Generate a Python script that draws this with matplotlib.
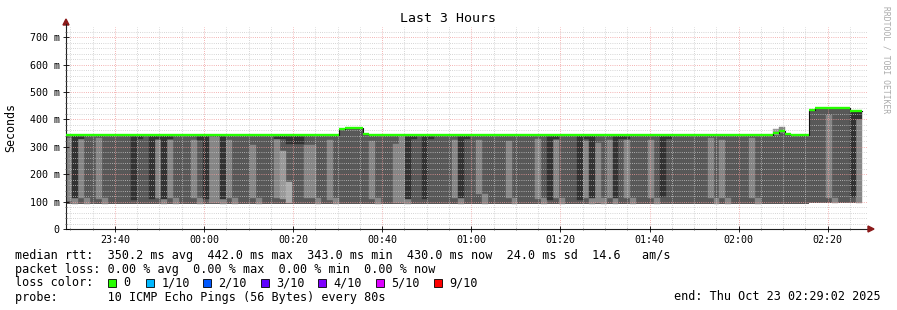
import numpy as np
import matplotlib
matplotlib.use("Agg")
import matplotlib.pyplot as plt
import matplotlib.dates as mdates
from matplotlib.patches import Rectangle, Polygon

plt.rcParams['font.family'] = ['DejaVu Sans Mono', 'DejaVu Sans']

# ---------------- data ----------------
title = "Last 3 Hours"
start_time = "2025-10-22T23:29:02"
step_seconds = 80

# median rtt per 80 s step (ms)
median_ms = [
    343, 343, 343, 343, 343, 343, 343, 343, 343, 343, 343, 343, 343, 343, 343, 343, 343, 343, 343, 343,
    343, 343, 343, 343, 343, 343, 343, 343, 343, 343, 343, 343, 343, 343, 343, 343, 343, 343, 343, 343,
    343, 343, 343, 343, 343, 343, 364, 369, 369, 369, 346, 343, 343, 343, 343, 343, 343, 343, 343, 343,
    343, 343, 343, 343, 343, 343, 343, 343, 343, 343, 343, 343, 343, 343, 343, 343, 343, 343, 343, 343,
    343, 343, 343, 343, 343, 343, 343, 343, 343, 343, 343, 343, 343, 343, 343, 343, 343, 343, 343, 343,
    343, 343, 343, 343, 343, 343, 343, 343, 343, 343, 343, 343, 343, 343, 343, 343, 343, 343, 343, 350,
    357, 348, 343, 343, 343, 433, 442, 442, 440, 440, 440, 440, 430, 430,
]
# lowest smoke value per step (ms)
smoke_low_ms = [
    92, 92, 92, 92, 92, 92, 92, 92, 92, 92, 92, 92, 92, 92, 92, 92, 92, 92, 92, 92,
    92, 92, 92, 92, 92, 92, 92, 92, 92, 92, 92, 92, 92, 92, 92, 92, 92, 92, 92, 92,
    92, 92, 92, 92, 92, 92, 92, 92, 92, 92, 92, 92, 92, 92, 92, 92, 92, 92, 92, 92,
    92, 92, 92, 92, 92, 92, 92, 92, 92, 92, 92, 92, 92, 92, 92, 92, 92, 92, 92, 92,
    92, 92, 92, 92, 92, 92, 92, 92, 92, 92, 92, 92, 92, 92, 92, 92, 92, 92, 92, 92,
    92, 92, 92, 92, 92, 92, 92, 92, 92, 92, 92, 92, 92, 92, 92, 92, 92, 92, 92, 92,
    92, 92, 92, 92, 92, 94, 94, 94, 94, 94, 94, 94, 94, 94,
]

# outer smoke layers (pings spread): step index, low ms, high ms, layer (1 outer .. 3 inner)
outer_step = [0, 2, 5, 15, 17, 21, 24, 25, 27, 31, 35, 36, 37, 40, 41, 44, 51, 55, 56, 65,
              69, 74, 79, 82, 87, 89, 91, 94, 98, 108, 110, 115, 128, 133, 119, 120]
outer_low = [102, 113, 110, 113, 113, 113, 95, 95, 113, 113, 113, 110, 95, 113, 113, 106, 110, 95, 95, 113,
             128, 113, 110, 113, 113, 95, 113, 113, 113, 113, 113, 113, 113, 95, 343, 350]
outer_high = [333, 328, 332, 325, 325, 325, 335, 335, 325, 307, 328, 285, 172, 307, 307, 325, 321, 310, 339, 325,
              325, 321, 328, 325, 321, 314, 325, 325, 325, 332, 325, 332, 416, 401, 365, 372]
outer_layer = [3, 3, 3, 3, 3, 3, 3, 3, 3, 3, 3, 2, 1, 3, 3, 3, 3, 3, 3, 3,
               3, 3, 3, 3, 3, 3, 3, 3, 3, 3, 3, 3, 3, 3, 2, 3]

# low tails following spread steps
tail_step = [1, 3, 6, 16, 18, 22, 26, 28, 32, 42, 45, 52, 57, 66, 70, 75, 80, 83, 88, 90,
             92, 95, 99, 109, 111, 116, 129]
tail_high = [114, 113, 113, 113, 113, 113, 113, 113, 113, 113, 113, 113, 113, 113, 128, 113, 113, 113, 113, 113,
             113, 113, 113, 113, 113, 113, 113]

# central pings (darkest layer): step index, low ms, high ms
core_step = [1, 11, 14, 16, 23, 26, 57, 60, 66, 81, 86, 88, 92, 100, 132,
             2, 12, 15, 17, 22, 35, 36, 37, 38, 39, 58, 61, 67, 82, 87, 93, 94, 101, 133]
core_low = [114, 106, 110, 110, 110, 110, 110, 110, 113, 106, 106, 113, 113, 117, 117,
            330, 330, 330, 330, 325, 330, 330, 310, 310, 310, 330, 330, 330, 330, 330, 330, 330, 330, 401]
core_high = [343, 343, 343, 343, 343, 343, 343, 343, 343, 343, 343, 343, 343, 343, 427,
             343, 343, 343, 343, 343, 343, 343, 343, 343, 343, 343, 343, 343, 343, 343, 343, 343, 343, 427]

y_ticks_ms = [0, 100, 200, 300, 400, 500, 600, 700]
y_tick_labels = ["0", "100 m", "200 m", "300 m", "400 m", "500 m", "600 m", "700 m"]

line_median = "median rtt:  350.2 ms avg  442.0 ms max  343.0 ms min  430.0 ms now  24.0 ms sd  14.6   am/s"
line_loss = "packet loss: 0.00 % avg  0.00 % max  0.00 % min  0.00 % now"
loss_labels = ["0", "1/10", "2/10", "3/10", "4/10", "5/10", "9/10"]
loss_colors = ["#26ff00", "#00b8ff", "#0059ff", "#5e00ff", "#7e00ff", "#dd00ff", "#ff0000"]
line_probe = "probe:       10 ICMP Echo Pings (56 Bytes) every 80s"
end_text = "end: Thu Oct 23 02:29:02 2025"

# ---------------- figure ----------------
W, H = 897, 310
fig = plt.figure(figsize=(W / 100, H / 100), dpi=100)
fig.patch.set_facecolor("white")


def fx(x):
    return x / W


def fy(y):
    return 1 - y / H


L, R, T, B = 66, 868, 27, 229
ax = fig.add_axes([fx(L), fy(B), (R - L) / W, (B - T) / H])
ax.set_facecolor("white")

t0 = np.datetime64(start_time)
n = len(median_ms)
starts = t0 + np.arange(n) * np.timedelta64(step_seconds, "s")
xs = mdates.date2num(starts)
w = step_seconds / 86400.0
med = np.array(median_ms, float)
low = np.array(smoke_low_ms, float)

xe = np.append(xs, xs[-1] + w)
ax.fill_between(xe, np.append(low, low[-1]), np.append(med, med[-1]), step="post",
                color="#585858", lw=0, zorder=1)

layer_col = {1: "#acacac", 2: "#9a9a9a", 3: "#868686"}
for s, lo, hi, ly in zip(outer_step, outer_low, outer_high, outer_layer):
    c = layer_col[ly]
    ax.bar(xs[s], hi - lo, bottom=lo, width=w, align="edge", color=c, edgecolor=c, lw=0.3, zorder=1.2)
for s, hi in zip(tail_step, tail_high):
    c = layer_col[3]
    ax.bar(xs[s], hi - low[s], bottom=low[s], width=w, align="edge", color=c, edgecolor=c, lw=0.3, zorder=1.2)
for s, lo, hi in zip(core_step, core_low, core_high):
    ax.bar(xs[s], hi - lo, bottom=lo, width=w, align="edge", color="#323232", edgecolor="#323232",
           lw=0.3, zorder=1.4)

# median line: thin dark outline + loss colour
ax.step(xe, np.append(med, med[-1]), where="post", color="#101010", lw=0.8, zorder=3)
ax.hlines(med, xs, xs + w, colors=loss_colors[0], lw=1.7, zorder=4)

# axes / grid
ax.set_xlim(mdates.date2num(t0), mdates.date2num(t0 + np.timedelta64(3, "h")))
ax.set_ylim(0, 737)
ax.xaxis.set_major_locator(mdates.MinuteLocator(byminute=[0, 20, 40]))
ax.xaxis.set_minor_locator(mdates.MinuteLocator(byminute=range(0, 60, 5)))
ax.xaxis.set_major_formatter(mdates.DateFormatter("%H:%M"))
ax.set_yticks(y_ticks_ms)
ax.set_yticklabels(y_tick_labels)
ax.set_yticks(np.arange(0, 737, 20), minor=True)

ax.set_axisbelow(False)
ax.grid(which="minor", color="#c8c8c8", lw=0.6, linestyle=(0, (1, 1.6)), zorder=2)
ax.grid(which="major", color="#f09a9a", lw=0.6, linestyle=(0, (1, 1.6)), zorder=2.1)
ax.tick_params(which="major", direction="inout", length=4, width=0.6, colors="black",
               labelsize=7.2, pad=2.5)
ax.tick_params(which="minor", direction="inout", length=2, width=0.5, colors="#404040")
for sp in ["top", "right"]:
    ax.spines[sp].set_visible(False)
for sp in ["left", "bottom"]:
    ax.spines[sp].set_color("#202020")
    ax.spines[sp].set_linewidth(0.8)

# axis arrows
arrow_col = "#8b1a1a"
fig.add_artist(Polygon([(fx(63), fy(25)), (fx(69), fy(25)), (fx(66), fy(19))], closed=True,
                       color=arrow_col, transform=fig.transFigure))
fig.add_artist(Polygon([(fx(868), fy(226)), (fx(868), fy(232)), (fx(874), fy(229))], closed=True,
                       color=arrow_col, transform=fig.transFigure))
fig.add_artist(plt.Line2D([fx(66), fx(66)], [fy(27), fy(24)], color="#202020", lw=0.8))

# texts
fig.text(fx(448), fy(19), title, ha="center", va="center", fontsize=9.5)
fig.text(fx(11), fy(127), "Seconds", rotation=90, ha="center", va="center", fontsize=8.4)
fig.text(fx(886), fy(60), "RRDTOOL / TOBI OETIKER", rotation=270, ha="center", va="center",
         fontsize=5.8, color="#aaaaaa")

fs = 8.5
y1, y2, y3, y4 = 255, 269, 283, 297
fig.text(fx(15), fy(y1), line_median, va="center", fontsize=fs)
fig.text(fx(15), fy(y2), line_loss, va="center", fontsize=fs)
fig.text(fx(15), fy(y3), "loss color:", va="center", fontsize=fs)
sq_x = [108, 146, 203, 261, 318, 376, 434]
for xpos, lab, c in zip(sq_x, loss_labels, loss_colors):
    fig.add_artist(Rectangle((fx(xpos), fy(287)), 8 / W, 8 / H, facecolor=c, edgecolor="black",
                             lw=0.6, transform=fig.transFigure))
    fig.text(fx(xpos + 15.5), fy(y3), lab, va="center", fontsize=fs)
fig.text(fx(15), fy(y4), line_probe, va="center", fontsize=fs)
fig.text(fx(880.5), fy(y4), end_text, ha="right", va="center", fontsize=fs)

fig.savefig("out.png", dpi=100, facecolor="white")
